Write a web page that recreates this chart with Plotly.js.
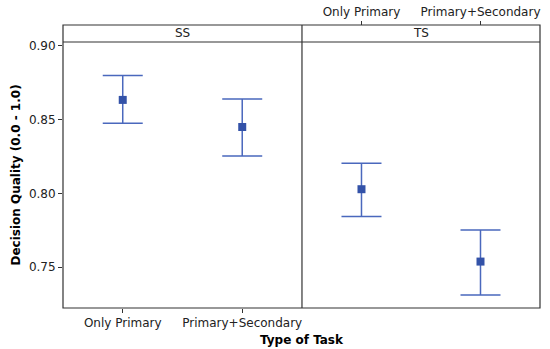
<!DOCTYPE html>
<html><head><meta charset="utf-8">
<script src="https://cdn.plot.ly/plotly-3.0.1.min.js"></script>
<style>body{margin:0;padding:0;background:#fff}#chart{width:550px;height:349px}</style>
</head><body><div id="chart"></div>
<script>
const categories = ["Only Primary", "Primary+Secondary"];
const panels = ["SS", "TS"];
const ssMean = [0.8634, 0.8450];
const ssUpper = [0.8799, 0.8640];
const ssLower = [0.8475, 0.8254];
const tsMean = [0.8028, 0.7537];
const tsUpper = [0.8204, 0.7752];
const tsLower = [0.7842, 0.7311];
const yTicks = [0.75, 0.80, 0.85, 0.90];

const lineColor = '#4a68bd';
const markColor = '#3352a8';
const font = 'DejaVu Sans, Verdana, sans-serif';
const textColor = '#222';
const yTop = 0.94;
const xSplit = 0.501;

function trace(mean, up, lo, xa, ya) {
  return {
    type: 'scatter', mode: 'markers', x: categories, y: mean,
    xaxis: xa, yaxis: ya,
    marker: {symbol: 'square', size: 8, color: markColor},
    error_y: {type: 'data', symmetric: false,
      array: mean.map((m, i) => up[i] - m),
      arrayminus: mean.map((m, i) => m - lo[i]),
      color: lineColor, thickness: 1.5, width: 20},
    showlegend: false, hoverinfo: 'skip'
  };
}

const data = [
  trace(ssMean, ssUpper, ssLower, 'x', 'y'),
  trace(tsMean, tsUpper, tsLower, 'x2', 'y2')
];

const yRange = [0.7222, 0.9027];
const layout = {
  width: 550, height: 349,
  margin: {l: 63, r: 10, t: 25, b: 41},
  paper_bgcolor: '#fff', plot_bgcolor: '#fff',
  font: {family: font, size: 12, color: textColor},
  xaxis: {domain: [0, xSplit], type: 'category', range: [-0.5, 1.5],
    showline: false, showgrid: false, zeroline: false,
    ticks: 'outside', ticklen: 4, tickcolor: '#333', tickwidth: 1,
    tickfont: {family: font, size: 12, color: textColor}, anchor: 'y'},
  xaxis2: {domain: [xSplit, 1], type: 'category', range: [-0.5, 1.5],
    side: 'top', anchor: 'free', position: 1,
    showline: false, showgrid: false, zeroline: false,
    ticks: 'outside', ticklen: 4, tickcolor: '#333', tickwidth: 1,
    tickfont: {family: font, size: 12, color: textColor}},
  yaxis: {domain: [0, yTop], range: yRange, anchor: 'x',
    tickvals: yTicks, ticktext: yTicks.map(v => v.toFixed(2)),
    showline: false, showgrid: false, zeroline: false,
    ticks: 'outside', ticklen: 4, tickcolor: '#333', tickwidth: 1,
    tickfont: {family: font, size: 12, color: textColor},
    title: {text: 'Decision Quality (0.0 - 1.0)', standoff: 5,
      font: {family: font, size: 12, color: '#000', weight: 'bold'}}},
  yaxis2: {domain: [0, yTop], range: yRange, anchor: 'x2', matches: 'y',
    showticklabels: false, ticks: '', showline: false, showgrid: false, zeroline: false},
  shapes: [
    {type: 'rect', xref: 'paper', yref: 'paper', x0: 0, x1: 1, y0: 0, y1: 1,
      line: {color: '#333', width: 1.2}},
    {type: 'line', xref: 'paper', yref: 'paper', x0: xSplit, x1: xSplit, y0: 0, y1: 1,
      line: {color: '#333', width: 1.2}},
    {type: 'line', xref: 'paper', yref: 'paper', x0: 0, x1: 1, y0: yTop, y1: yTop,
      line: {color: '#333', width: 1.2}}
  ],
  annotations: [
    {text: panels[0], xref: 'paper', yref: 'paper', x: xSplit / 2, y: (1 + yTop) / 2,
      showarrow: false, xanchor: 'center', yanchor: 'middle',
      font: {family: font, size: 12, color: textColor}},
    {text: panels[1], xref: 'paper', yref: 'paper', x: (1 + xSplit) / 2, y: (1 + yTop) / 2,
      showarrow: false, xanchor: 'center', yanchor: 'middle',
      font: {family: font, size: 12, color: textColor}},
    {text: '<b>Type of Task</b>', xref: 'paper', yref: 'paper', x: 0.5, y: 0,
      yshift: -32, showarrow: false, xanchor: 'center', yanchor: 'middle',
      font: {family: font, size: 12, color: '#000'}}
  ]
};

Plotly.newPlot('chart', data, layout, {displayModeBar: false, staticPlot: true});
</script>
</body></html>
